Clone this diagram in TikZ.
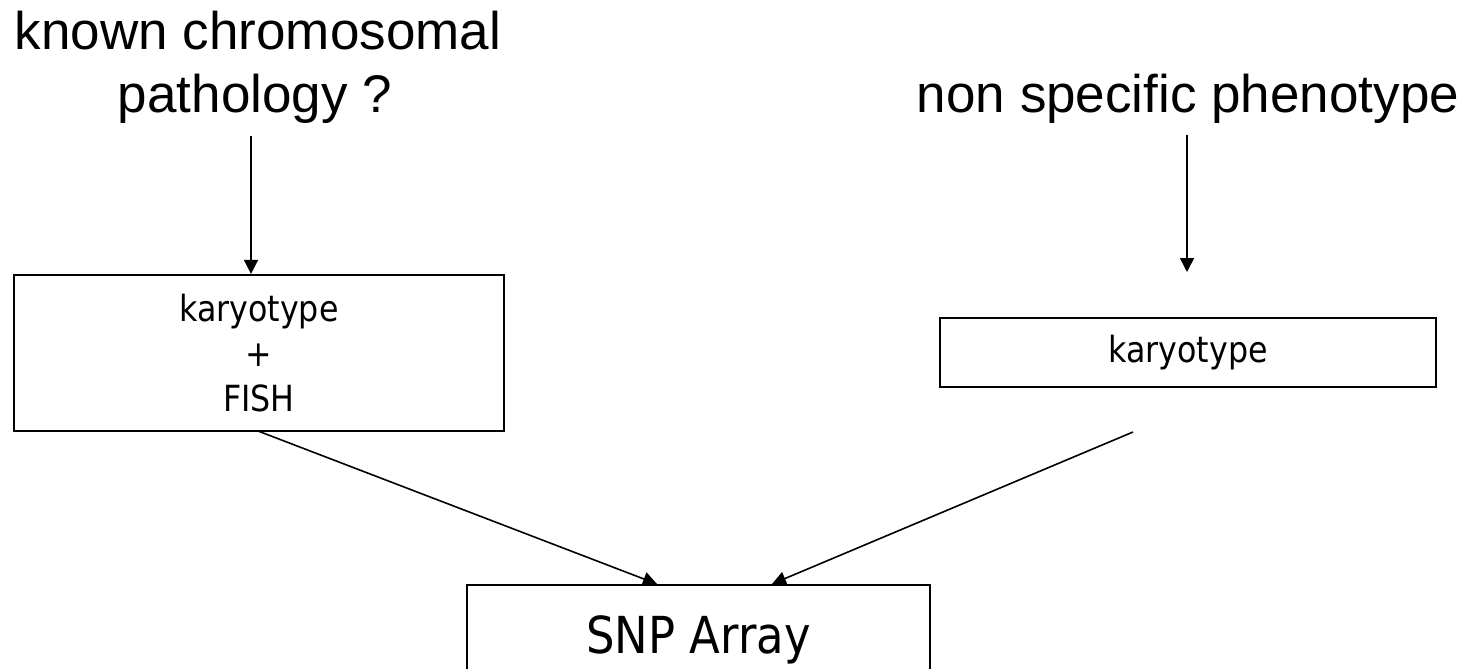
\documentclass[tikz,border=0pt]{standalone}
\usepackage{fontspec}
\setmainfont{Liberation Sans}
\newfontfamily\boxfont{DejaVu Sans}[FakeStretch=0.88]
\usetikzlibrary{arrows.meta}
\begin{document}
\begin{tikzpicture}[x=1pt,y=-1pt,
  title/.style={font=\fontsize{53}{63}\selectfont, align=center, inner sep=0pt},
  boxnode/.style={draw, line width=2.2pt, inner sep=0pt, align=center},
  conn/.style={line width=1.6pt, -{Triangle[length=14pt,width=14pt]}}]
\useasboundingbox[fill=white] (0,0) rectangle (1465,669);
% titles
\node[title, anchor=base] (t1) at (258,50) {known chromosomal};
\node[title, anchor=base] (t1b) at (255,113) {pathology ?};
\node[title, anchor=base] (t2) at (1188,112) {non specific phenotype};
% boxes
\node[boxnode, minimum width=490pt, minimum height=156pt,
      font=\boxfont\fontsize{36}{45}\selectfont] (b1) at (259,353)
      {karyotype\\+\\FISH};
\node[boxnode, minimum width=496pt, minimum height=69pt,
      font=\boxfont\fontsize{36}{45}\selectfont] (b2) at (1188,352.5)
      {karyotype};
\node[boxnode, anchor=north, minimum width=463pt, minimum height=110pt,
      font=\boxfont\fontsize{51}{60}\selectfont] (b3) at (698.5,584)
      {SNP Array};
% connector anchors
\coordinate (s1) at (251,136);
\coordinate (s2) at (1187,135);
\coordinate (e2) at (1187,272);
\coordinate (s3) at (258,431);
\coordinate (s4) at (1133,432);
\coordinate (e3) at (657,584);
\coordinate (e4) at (772,584);
\draw[conn] (s1) -- (s1 |- b1.north);
\draw[conn] (s2) -- (e2);
\draw[conn] (s3) -- (e3);
\draw[conn] (s4) -- (e4);
\end{tikzpicture}
\end{document}
